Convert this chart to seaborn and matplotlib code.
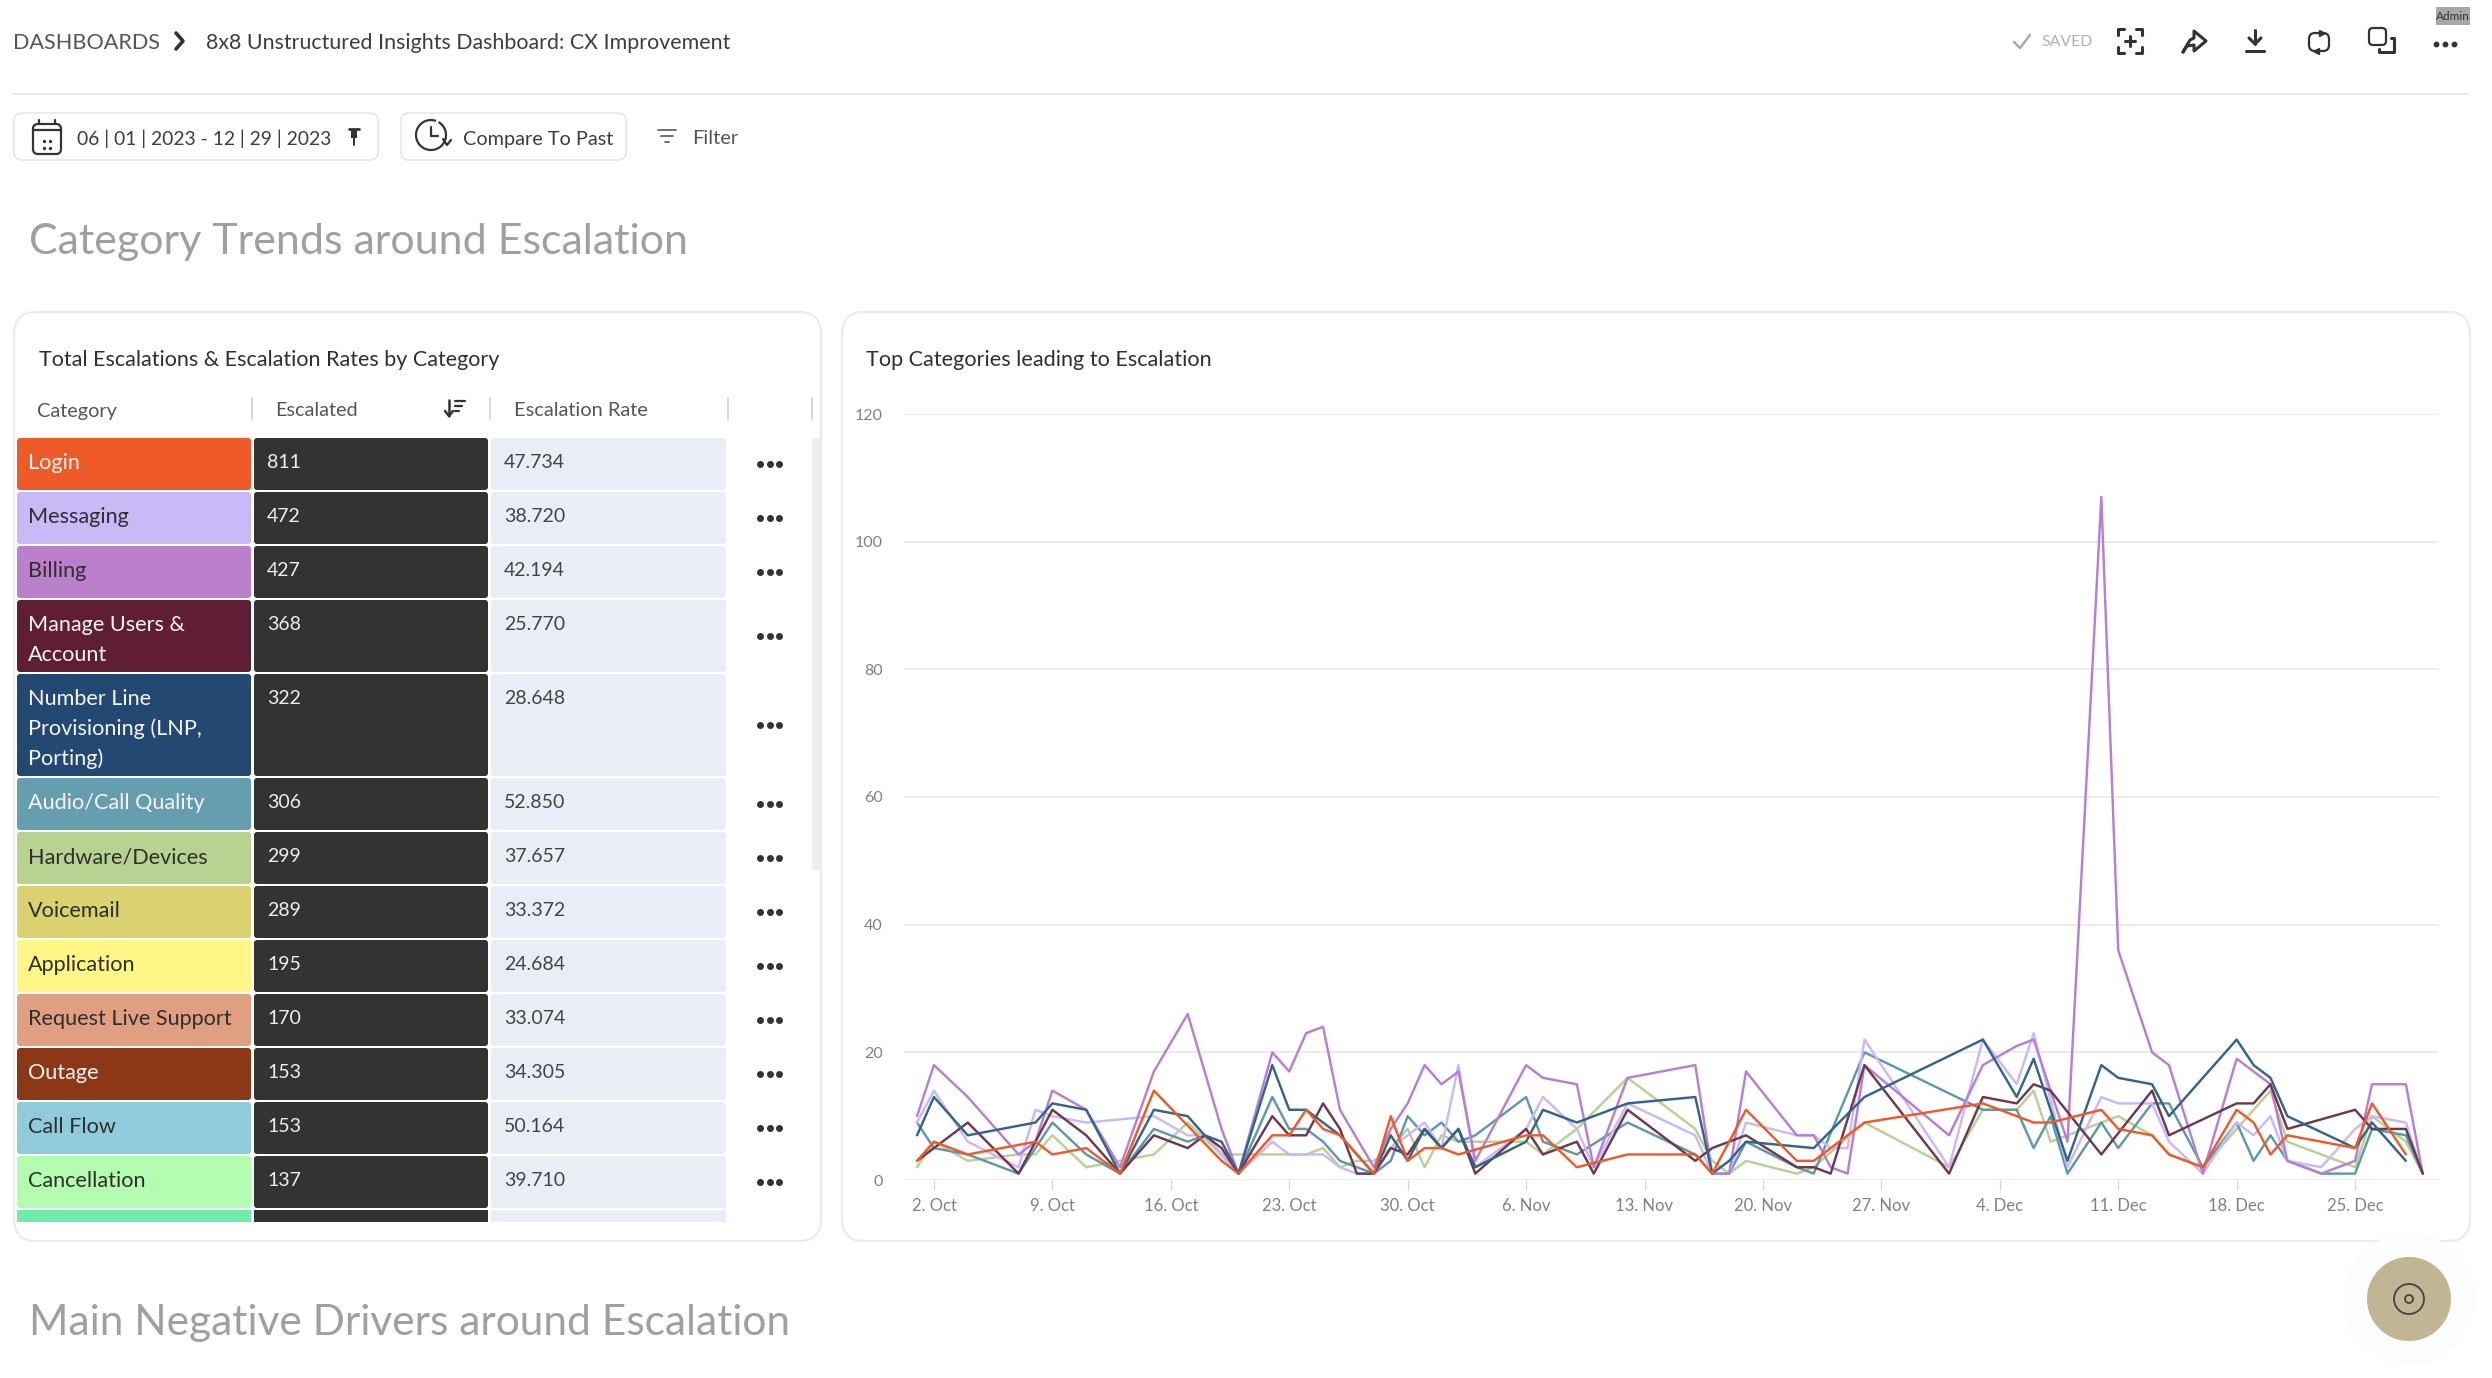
import pandas as pd
import seaborn as sns
import matplotlib.pyplot as plt
from matplotlib.patches import FancyBboxPatch, Circle, Rectangle, Arc

# Table data
CATEGORIES = ['Login', 'Messaging', 'Billing', 'Manage Users &\nAccount',
              'Number Line\nProvisioning (LNP,\nPorting)', 'Audio/Call Quality',
              'Hardware/Devices', 'Voicemail', 'Application', 'Request Live Support',
              'Outage', 'Call Flow', 'Cancellation']
ESCALATED = [811, 472, 427, 368, 322, 306, 299, 289, 195, 170, 153, 153, 137]
RATES = ['47.734', '38.720', '42.194', '25.770', '28.648', '52.850', '37.657',
         '33.372', '24.684', '33.074', '34.305', '50.164', '39.710']
CATEGORY_COLORS = ['#ee5a28', '#c9b9f7', '#ba80cc', '#5f1e33', '#234872', '#649eaf',
                   '#b8d291', '#d9d26f', '#fff685', '#e19f81', '#8c3816', '#90cbdc', '#b3fdb0']
LIGHT_TEXT = ['Login', 'Manage Users &\nAccount', 'Number Line\nProvisioning (LNP,\nPorting)',
              'Audio/Call Quality', 'Outage']

# Line chart data: days since 1 Oct 2023, and the escalation count on that day
LOGIN_DAYS = [0, 1, 3, 7, 8, 10, 12, 14, 18, 19, 21, 22, 23, 24, 25, 27, 28, 29, 30, 31, 32, 36, 37, 39, 42,
              46, 47, 49, 52, 53, 56, 63, 66, 67, 70, 71, 73, 74, 76, 78, 79, 80, 81, 85, 86, 88]
LOGIN_COUNTS = [3, 6, 4, 6, 4, 5, 1, 14, 3, 1, 7, 7, 11, 8, 7, 1, 10, 3, 5, 5, 4, 7, 7, 2, 4,
                4, 1, 11, 3, 3, 9, 12, 9, 9, 11, 8, 7, 4, 2, 11, 9, 4, 7, 5, 12, 4]
MESSAGING_DAYS = [0, 1, 3, 6, 7, 8, 10, 14, 16, 17, 18, 19, 21, 22, 23, 24, 25, 26, 27, 28, 29, 30, 31, 32, 33,
                  36, 37, 39, 40, 42, 46, 47, 48, 49, 52, 53, 54, 55, 56, 61, 63, 65, 66, 68, 70, 71, 73, 74,
                  76, 78, 79, 80, 81, 83, 85, 86, 88, 89]
MESSAGING_COUNTS = [9, 14, 6, 2, 11, 10, 9, 10, 7, 7, 4, 1, 6, 4, 4, 4, 2, 1, 1, 5, 7, 9, 5, 18, 2,
                    8, 13, 8, 2, 12, 7, 1, 1, 9, 7, 7, 5, 5, 22, 2, 22, 15, 23, 2, 13, 12, 12, 6,
                    1, 9, 7, 10, 3, 2, 8, 10, 9, 1]
BILLING_DAYS = [0, 1, 3, 6, 7, 8, 10, 12, 14, 16, 18, 19, 21, 22, 23, 24, 25, 27, 28, 29, 30, 31, 32, 33, 36,
                37, 39, 40, 42, 46, 47, 48, 49, 52, 53, 54, 55, 56, 61, 63, 65, 66, 68, 70, 71, 73, 74,
                76, 78, 80, 81, 83, 85, 86, 88, 89]
BILLING_COUNTS = [10, 18, 13, 4, 6, 14, 11, 2, 17, 26, 8, 1, 20, 17, 23, 24, 11, 2, 8, 12, 18, 15, 17, 3, 18,
                  16, 15, 2, 16, 18, 1, 1, 17, 7, 7, 2, 1, 18, 7, 18, 21, 22, 6, 107, 36, 20, 18,
                  1, 19, 15, 3, 1, 3, 15, 15, 1]
MANAGE_DAYS = [0, 1, 3, 6, 8, 10, 12, 14, 16, 17, 18, 19, 21, 22, 23, 24, 25, 26, 27, 28, 29, 30, 31, 32, 33,
               36, 37, 39, 40, 42, 46, 47, 49, 52, 53, 54, 56, 61, 63, 65, 66, 67, 70, 73, 74,
               78, 79, 80, 81, 85, 86, 88, 89]
MANAGE_COUNTS = [3, 5, 9, 1, 11, 7, 1, 7, 5, 7, 5, 1, 10, 7, 7, 12, 8, 1, 1, 5, 4, 8, 5, 8, 1,
                 8, 4, 6, 1, 11, 3, 5, 7, 2, 2, 1, 18, 1, 13, 12, 15, 14, 4, 14, 7,
                 12, 12, 15, 8, 11, 8, 8, 1]
NUMBER_DAYS = [0, 1, 3, 7, 8, 10, 12, 14, 16, 17, 18, 19, 21, 22, 23, 25, 27, 28, 29, 30, 31, 32, 33,
               36, 37, 39, 42, 46, 47, 48, 49, 53, 56, 63, 65, 66, 68, 70, 71, 73, 74, 78, 79, 80, 81, 85, 86, 88]
NUMBER_COUNTS = [7, 13, 7, 9, 12, 11, 1, 11, 10, 7, 6, 1, 18, 11, 11, 7, 1, 7, 3, 8, 5, 8, 2,
                 6, 11, 9, 12, 13, 1, 3, 6, 5, 13, 22, 13, 19, 3, 18, 16, 15, 10, 22, 18, 16, 10, 5, 9, 3]
AUDIO_DAYS = [0, 1, 3, 6, 8, 10, 12, 14, 16, 17, 19, 21, 22, 23, 24, 25, 27, 28, 29, 30, 31, 32, 33,
              36, 37, 39, 42, 46, 47, 48, 49, 52, 53, 56, 63, 65, 66, 67, 68, 70, 71, 73, 74, 76, 78, 79, 80, 81,
              83, 85, 86, 88, 89]
AUDIO_COUNTS = [9, 5, 4, 1, 9, 4, 1, 8, 6, 7, 1, 13, 8, 8, 6, 3, 1, 3, 10, 7, 9, 6, 7,
                13, 6, 4, 9, 4, 1, 1, 6, 2, 1, 20, 11, 11, 5, 10, 1, 9, 5, 12, 12, 2, 9, 3, 7, 3,
                1, 1, 8, 7, 1]
HARDWARE_DAYS = [0, 1, 3, 6, 7, 8, 10, 12, 14, 16, 18, 19, 21, 22, 23, 24, 25, 26, 27, 28, 29, 30, 31, 32, 33,
                 36, 37, 39, 42, 46, 47, 48, 49, 52, 53, 56, 61, 63, 65, 66, 67, 70, 71, 73, 74, 76, 78, 79, 80, 81,
                 85, 86, 88, 89]
HARDWARE_COUNTS = [2, 6, 3, 4, 4, 7, 2, 3, 4, 9, 4, 4, 4, 4, 4, 5, 2, 3, 3, 5, 8, 2, 7, 6, 6,
                   6, 4, 8, 16, 8, 3, 1, 3, 1, 2, 9, 2, 11, 11, 14, 6, 9, 10, 7, 4, 2, 8, 11, 14, 6,
                   2, 10, 6, 1]
Y_TICKS = [0, 20, 40, 60, 80, 100, 120]

series = [('Hardware/Devices', HARDWARE_DAYS, HARDWARE_COUNTS),
          ('Audio/Call Quality', AUDIO_DAYS, AUDIO_COUNTS),
          ('Messaging', MESSAGING_DAYS, MESSAGING_COUNTS),
          ('Billing', BILLING_DAYS, BILLING_COUNTS),
          ('Manage Users & Account', MANAGE_DAYS, MANAGE_COUNTS),
          ('Number Line', NUMBER_DAYS, NUMBER_COUNTS),
          ('Login', LOGIN_DAYS, LOGIN_COUNTS)]
line_colors = {'Hardware/Devices': '#b8d291', 'Audio/Call Quality': '#5f98aa', 'Messaging': '#c9b9f7',
               'Billing': '#b67fd6', 'Manage Users & Account': '#70384c', 'Number Line': '#33648a',
               'Login': '#f05a28'}

rows = []
for name, days, counts in series:
    for d, c in zip(days, counts, strict=True):
        rows.append({'date': pd.Timestamp('2023-10-01') + pd.Timedelta(days=d), 'count': c, 'category': name})
df = pd.DataFrame(rows)

sns.set_theme(style='white')
plt.rcParams['font.family'] = ['Lato', 'DejaVu Sans']

W, H = 2492, 1378
fig = plt.figure(figsize=(W / 100, H / 100), dpi=100, facecolor='white')

# Page furniture, in pixel coordinates
ui = fig.add_axes([0, 0, 1, 1])
ui.set_xlim(0, W)
ui.set_ylim(H, 0)
ui.axis('off')

DARK = '#3d3d3d'


def label(x, y, s, size=15, color=DARK, ha='left', **kw):
    ui.text(x, y, s, fontsize=size, color=color, ha=ha, va='center', **kw)


def card(x, y, w, h, radius=8, ec='#e6e6e6', fc='white', lw=1.2):
    ui.add_patch(FancyBboxPatch((x, y), w, h, boxstyle=f'round,pad=0,rounding_size={radius}',
                                fc=fc, ec=ec, lw=lw))


def stroke(xs, ys, color='#333333', lw=2.2):
    ui.plot(xs, ys, color=color, lw=lw, solid_capstyle='round', solid_joinstyle='round')


# top bar
label(13, 43, 'DASHBOARDS', size=15.6, color='#555555')
stroke([176, 183, 176], [33, 41, 49], lw=2.6)
label(206, 43, '8x8 Unstructured Insights Dashboard: CX Improvement', size=15.4)
stroke([13, 2469], [94, 94], color='#e8e8e8', lw=1.2)

stroke([2014, 2020, 2030], [42, 48, 35], color='#aaaaaa', lw=1.8)
label(2041, 42, 'SAVED', size=11.4, color='#b0b0b0')
# focus icon
for sx in (-1, 1):
    for sy in (-1, 1):
        stroke([2130 + sx * 6, 2130 + sx * 12, 2130 + sx * 12], [41 + sy * 12, 41 + sy * 12, 41 + sy * 6])
stroke([2125, 2135], [41, 41])
stroke([2130, 2130], [36, 46])
# share icon
stroke([2183, 2190, 2194, 2194, 2206, 2194, 2194, 2187, 2183], [52, 40, 38, 31, 41, 51, 45, 46, 52])
# download icon
stroke([2255, 2255], [30, 44])
stroke([2249, 2255, 2261], [38, 44, 38])
stroke([2246, 2264], [51, 51])
# loop icon
card(2309, 33, 20, 18, radius=6, ec='#333333', lw=1.6)
ui.plot([2322], [33], marker='>', ms=5, color='#333333')
ui.plot([2316], [51], marker='<', ms=5, color='#333333')
# copy icon
card(2369, 28, 17, 17, radius=4, ec='#333333', lw=1.6)
stroke([2391, 2394, 2394, 2379, 2379], [38, 38, 52, 52, 49])
ui.plot([2436, 2445, 2454], [44, 44, 44], ls='', marker='o', ms=3.2, color='#333333')
ui.add_patch(Rectangle((2436, 7), 34, 18, fc='#a8a8a8', ec='none'))
label(2453, 16, 'Admin', size=8.5, color='#333333', ha='center')

# filter row
card(14, 113, 364, 47)
card(401, 113, 225, 47)
card(33, 124, 28, 30, radius=5, ec='#333333', lw=1.6)
stroke([33, 61], [130, 130], lw=1.6)
stroke([39, 39], [120, 124], lw=1.6)
stroke([55, 55], [120, 124], lw=1.6)
ui.plot([44, 50, 44, 50], [141, 141, 148, 148], ls='', marker='o', ms=1.4, color='#333333')
label(77, 139, '06 | 01 | 2023 - 12 | 29 | 2023', size=13.9)
stroke([349, 359], [129, 129], lw=2)
ui.add_patch(Rectangle((351, 129), 6, 9, fc='#333333', ec='none'))
stroke([354, 354], [138, 145], lw=1.4)
ui.add_patch(Arc((431, 135), 30, 30, theta1=-60, theta2=290, ec='#333333', lw=1.6))
stroke([431, 431, 438], [127, 136, 136], lw=1.6)
stroke([443, 447, 451], [139, 145, 140], lw=1.6)
label(463, 140, 'Compare To Past', size=14.3)
stroke([658, 676], [130, 130], color='#666666', lw=1.3)
stroke([661, 673], [136, 136], color='#666666', lw=1.3)
stroke([665, 669], [142, 142], color='#666666', lw=1.3)
label(692, 139, 'Filter', size=14.5, color='#555555')

label(29, 242, 'Category Trends around Escalation', size=31, color='#a0a0a0')
label(29, 1323, 'Main Negative Drivers around Escalation', size=30.6, color='#a0a0a0')

# cards
card(14, 312, 807, 929, radius=22, ec='#ececec', lw=1.6)
card(842, 312, 1628, 929, radius=22, ec='#ececec', lw=1.6)
label(39, 360, 'Total Escalations & Escalation Rates by Category', size=15.5, color='#2f2f2f')
label(866, 360, 'Top Categories leading to Escalation', size=15.6, color='#2f2f2f')

# table header
label(37, 411, 'Category', size=14.3, color='#555555')
label(275, 411, 'Escalated', size=14.3, color='#555555')
label(514, 411, 'Escalation Rate', size=14.4, color='#555555')
for sep_x in (252, 490, 728, 812):
    stroke([sep_x, sep_x], [398, 419], color='#d8d8d8', lw=1.4)
stroke([449, 449], [400, 416], lw=1.8)
stroke([445, 449, 453], [411, 416, 411], lw=1.8)
stroke([455, 465], [401, 401], lw=1.6)
stroke([455, 462], [406, 406], lw=1.6)
stroke([455, 459], [411, 411], lw=1.6)

# table rows
ui.add_patch(Rectangle((812, 438), 8, 432, fc='#eeeeee', ec='none'))
row_y = 438
for cat, esc, rate, col in zip(CATEGORIES, ESCALATED, RATES, CATEGORY_COLORS, strict=True):
    n_lines = cat.count('\n') + 1
    h = max(52, 12 + 30 * n_lines)
    card(17, row_y, 234, h, radius=3, fc=col, ec='none', lw=0)
    card(254, row_y, 234, h, radius=3, fc='#333333', ec='none', lw=0)
    card(491, row_y, 235, h, radius=3, fc='#e9edf5', ec='none', lw=0)
    text_col = '#f5f5f5' if cat in LIGHT_TEXT else '#2f2f2f'
    for i, part in enumerate(cat.split('\n')):
        label(28, row_y + 25 + 30 * i, part, size=15.6, color=text_col)
    label(267, row_y + 24, str(esc), size=14, color='#eeeeee')
    label(504, row_y + 24, rate, size=14, color='#444444')
    ui.plot([760, 770, 779], [row_y + h / 2] * 3, ls='', marker='o', ms=4, color='#333333')
    row_y += h + 2
# last row is cut off by the scroll area
ui.add_patch(Rectangle((17, row_y), 234, 12, fc='#6eedaa', ec='none'))
ui.add_patch(Rectangle((254, row_y), 234, 12, fc='#333333', ec='none'))
ui.add_patch(Rectangle((491, row_y), 235, 12, fc='#e9edf5', ec='none'))

# floating help button
ui.add_patch(Circle((2409, 1299), 66, fc='#fbfcfc', ec='none'))
ui.add_patch(Circle((2409, 1299), 42, fc='#c2b593', ec='none'))
ui.add_patch(Circle((2409, 1299), 15, fc='none', ec='#444444', lw=1.3))
ui.add_patch(Circle((2409, 1299), 4, fc='none', ec='#444444', lw=1.3))

# line chart
ax = fig.add_axes([904 / W, 1 - 1180 / H, (2438 - 904) / W, (1180 - 414) / H])
ax.patch.set_visible(False)
sns.lineplot(data=df, x='date', y='count', hue='category', hue_order=list(line_colors),
             palette=line_colors, estimator=None, lw=1.75, legend=False, ax=ax)

x_ticks = pd.date_range('2023-10-02', '2023-12-25', freq='7D')
ax.set_xticks(x_ticks)
ax.set_xticklabels([f'{t.day}. {t:%b}' for t in x_ticks])
ax.set_yticks(Y_TICKS)
ax.set_xlim(pd.Timestamp('2023-10-01') - pd.Timedelta(days=0.77), pd.Timestamp('2023-10-01') + pd.Timedelta(days=89.9))
ax.set_ylim(0, 120)
ax.set_xlabel('')
ax.set_ylabel('')
ax.grid(True, axis='y', color='#e8e8e8', lw=1.2)
ax.set_axisbelow(True)
sns.despine(ax=ax, left=True, right=True, top=True, bottom=True)
ax.tick_params(axis='x', length=7, width=0.9, color='#ccd6eb', labelsize=12, labelcolor='#808080', pad=6, bottom=True)
ax.tick_params(axis='y', length=0, labelsize=11.5, labelcolor='#808080', pad=15.5)

plt.savefig('out.png', dpi=100)
plt.close()
